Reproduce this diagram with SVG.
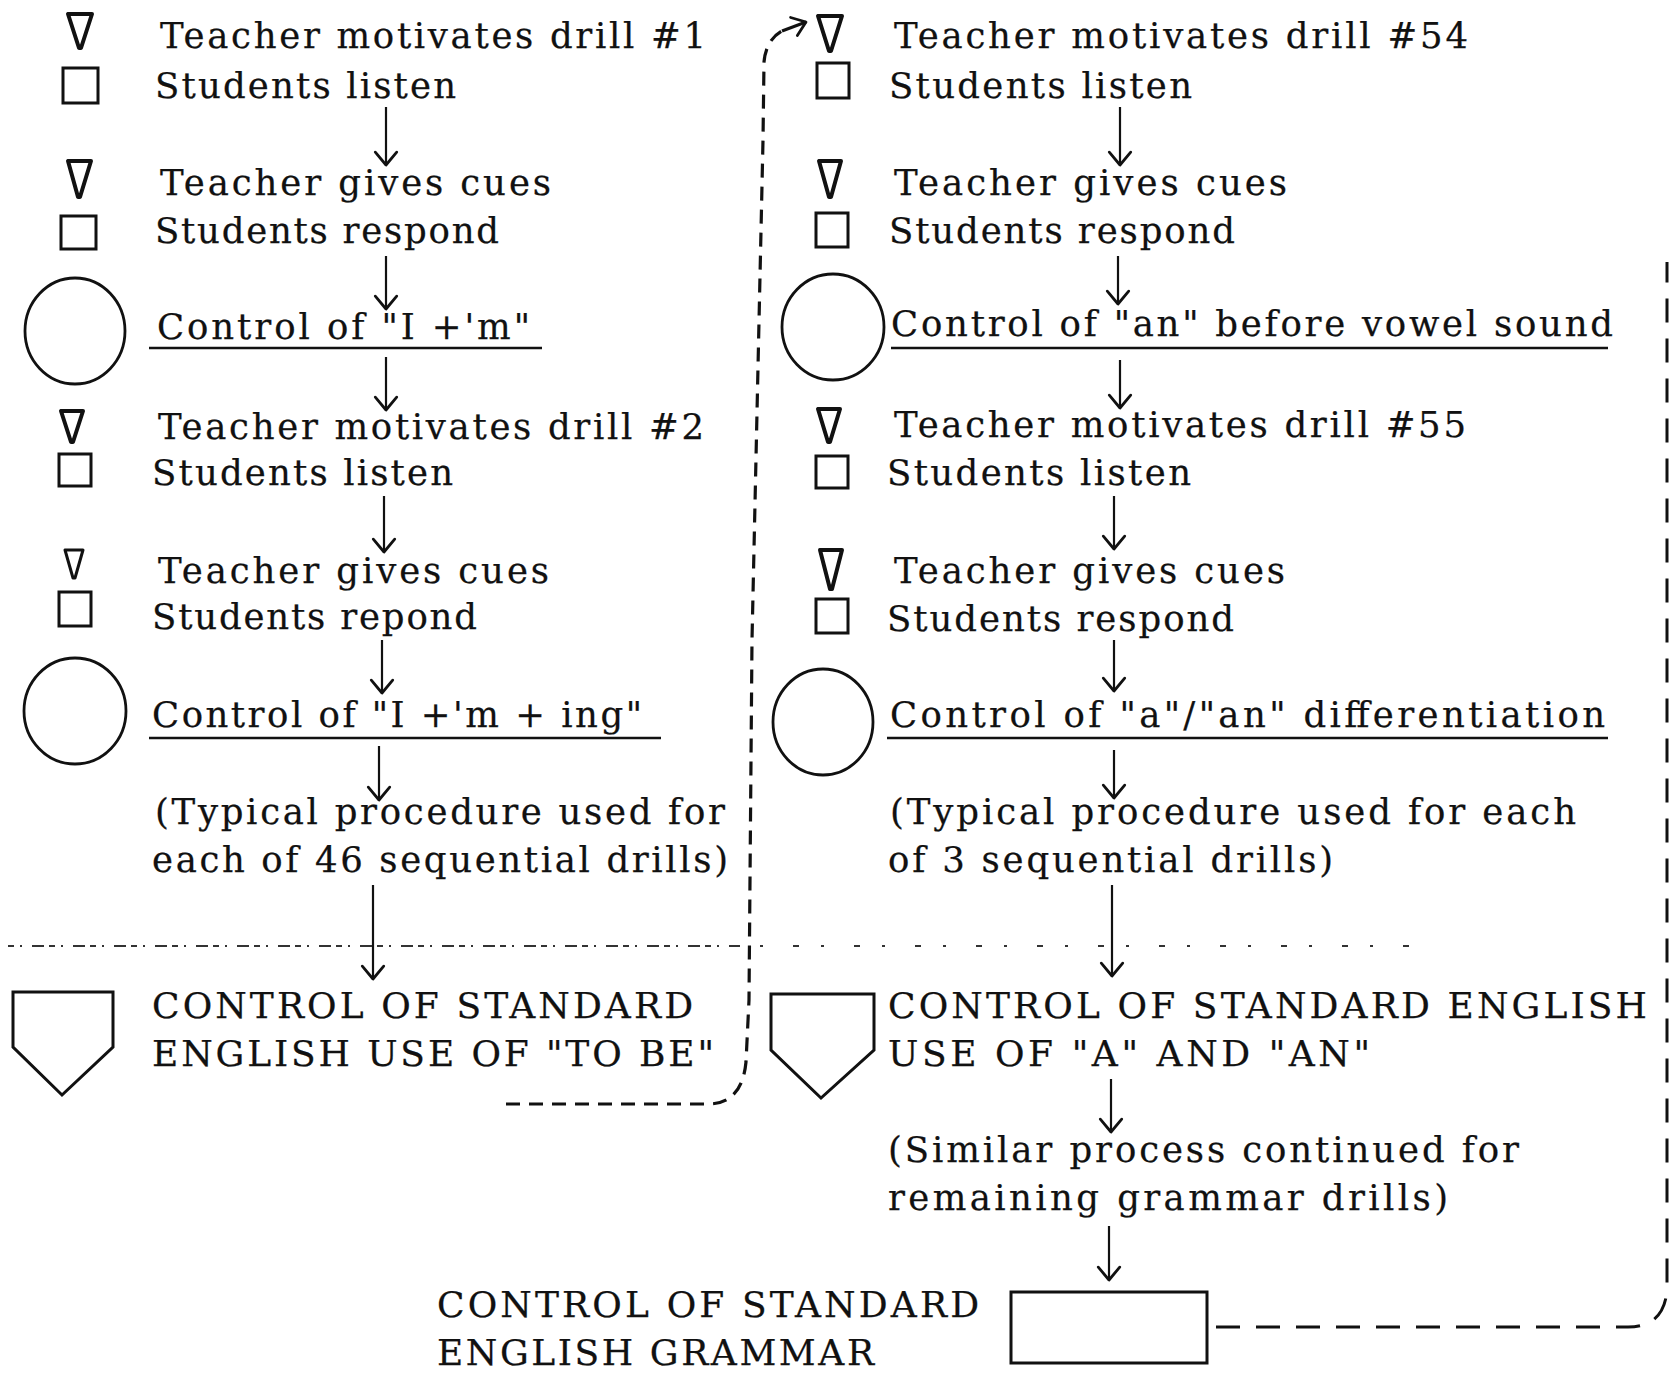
<svg xmlns="http://www.w3.org/2000/svg" width="1672" height="1374" viewBox="0 0 1672 1374">
<style>
text{font-family:"DejaVu Serif","Liberation Serif",serif;font-size:35.5px;fill:#111;stroke:#111;stroke-width:0.25}
.cap{font-size:36px}
.tri{fill:#fff;stroke:#111;stroke-width:4;stroke-linejoin:round}
.sq{fill:#fff;stroke:#111;stroke-width:3}
.circ{fill:none;stroke:#111;stroke-width:2.8}
.pent{fill:#fff;stroke:#111;stroke-width:3;stroke-linejoin:miter}
.ul{stroke:#111;stroke-width:2.4}
.arr{fill:none;stroke:#111;stroke-width:2.2;marker-end:url(#ah)}
.dash{fill:none;stroke:#111;stroke-width:3.2;stroke-dasharray:14 9}
.dash2{fill:none;stroke:#111;stroke-width:3;stroke-dasharray:24 16}
.dot{fill:none;stroke:#333;stroke-width:2;stroke-dasharray:6 6 2 10 12 5}
</style>
<defs>
<marker id="ah" markerUnits="userSpaceOnUse" markerWidth="30" markerHeight="30" refX="14" refY="12" orient="auto" viewBox="0 0 28 24">
<path d="M2,2 L14,12 L2,22" fill="none" stroke="#111" stroke-width="2.6" stroke-linecap="round" stroke-linejoin="round"/>
</marker>
<marker id="ah2" markerUnits="userSpaceOnUse" markerWidth="30" markerHeight="30" refX="14" refY="12" orient="auto" viewBox="0 0 28 24">
<path d="M2,3 L14,12 L2,21" fill="none" stroke="#111" stroke-width="2.6" stroke-linecap="round" stroke-linejoin="round"/>
</marker>
</defs>

<g id="connectors">
<path class="arr" d="M386,107 V165"/>
<path class="arr" d="M386,256 V309"/>
<path class="arr" d="M386,357 V410"/>
<path class="arr" d="M384,496 V552"/>
<path class="arr" d="M382,640 V693"/>
<path class="arr" d="M379,746 V800"/>
<path class="arr" d="M373,885 V979"/>
<path class="arr" d="M1120,107 V165"/>
<path class="arr" d="M1118,256 V304"/>
<path class="arr" d="M1120,360 V408"/>
<path class="arr" d="M1114,496 V549"/>
<path class="arr" d="M1114,640 V691"/>
<path class="arr" d="M1114,750 V798"/>
<path class="arr" d="M1112,885 V976"/>
<path class="arr" d="M1111,1079 V1132"/>
<path class="arr" d="M1109,1226 V1280"/>
<path class="dash" d="M506,1104 H708 Q742,1104 746,1062 L749,1000 L752,640 L763,140 L764,62 Q766,40 782,31"/>
<path d="M782,31 L806,22" fill="none" stroke="#111" stroke-width="3" marker-end="url(#ah2)"/>
<path class="dash2" d="M1216,1327 H1628 Q1664,1327 1667,1290 V262"/>
<path class="dot" d="M8,946 H740"/>
<path class="dot" d="M760,946 H1420" style="stroke-dasharray:3 30 6 22"/>
</g>

<g id="n-left-1">
<polygon class="tri" points="68,14 92,14 81,48 79,48"/>
<text x="160" y="48" textLength="546" lengthAdjust="spacing">Teacher motivates drill #1</text>
<rect class="sq" x="63" y="68" width="35" height="35"/>
<text x="155" y="98" textLength="301" lengthAdjust="spacing">Students listen</text>
</g>
<g id="n-left-2">
<polygon class="tri" points="68,161 91,161 80,197 78,197"/>
<text x="160" y="195" textLength="391" lengthAdjust="spacing">Teacher gives cues</text>
<rect class="sq" x="61" y="216" width="35" height="33"/>
<text x="155" y="243" textLength="344" lengthAdjust="spacing">Students respond</text>
</g>
<g id="n-left-3">
<ellipse class="circ" cx="75" cy="331" rx="50" ry="53"/>
<text x="157" y="339" textLength="373" lengthAdjust="spacing">Control of "I +'m"</text>
<line class="ul" x1="149" y1="348" x2="542" y2="348"/>
</g>
<g id="n-left-4">
<polygon class="tri" points="61,411 83,411 73,442 71,442"/>
<text x="158" y="439" textLength="546" lengthAdjust="spacing">Teacher motivates drill #2</text>
<rect class="sq" x="59" y="454" width="32" height="32"/>
<text x="152" y="485" textLength="301" lengthAdjust="spacing">Students listen</text>
</g>
<g id="n-left-5">
<polygon class="tri" points="65,550 83,550 75,578 73,578" style="stroke-width:3"/>
<text x="158" y="583" textLength="391" lengthAdjust="spacing">Teacher gives cues</text>
<rect class="sq" x="59" y="592" width="32" height="34"/>
<text x="152" y="629" textLength="325" lengthAdjust="spacing">Students repond</text>
</g>
<g id="n-left-6">
<ellipse class="circ" cx="75" cy="711" rx="51" ry="53"/>
<text x="152" y="727" textLength="490" lengthAdjust="spacing">Control of "I +'m + ing"</text>
<line class="ul" x1="149" y1="738" x2="661" y2="738"/>
</g>
<g id="n-left-7">
<text x="155" y="824" textLength="570" lengthAdjust="spacing">(Typical procedure used for</text>
<text x="152" y="872" textLength="576" lengthAdjust="spacing">each of 46 sequential drills)</text>
</g>
<g id="n-left-8">
<polygon class="pent" points="13,992 113,992 113,1047 62,1095 13,1047"/>
<text class="cap" x="152" y="1018" textLength="541" lengthAdjust="spacing">CONTROL OF STANDARD</text>
<text class="cap" x="152" y="1066" textLength="562" lengthAdjust="spacing">ENGLISH USE OF "TO BE"</text>
</g>

<g id="n-right-1">
<polygon class="tri" points="818,16 842,16 831,51 829,51"/>
<text x="894" y="48" textLength="574" lengthAdjust="spacing">Teacher motivates drill #54</text>
<rect class="sq" x="817" y="63" width="32" height="35"/>
<text x="889" y="98" textLength="303" lengthAdjust="spacing">Students listen</text>
</g>
<g id="n-right-2">
<polygon class="tri" points="819,161 841,161 831,197 829,197"/>
<text x="894" y="195" textLength="393" lengthAdjust="spacing">Teacher gives cues</text>
<rect class="sq" x="816" y="213" width="32" height="34"/>
<text x="889" y="243" textLength="346" lengthAdjust="spacing">Students respond</text>
</g>
<g id="n-right-3">
<ellipse class="circ" cx="833" cy="327" rx="51" ry="53"/>
<text x="891" y="336" textLength="722" lengthAdjust="spacing">Control of "an" before vowel sound</text>
<line class="ul" x1="891" y1="348" x2="1608" y2="348"/>
</g>
<g id="n-right-4">
<polygon class="tri" points="818,409 840,409 830,442 828,442"/>
<text x="894" y="437" textLength="572" lengthAdjust="spacing">Teacher motivates drill #55</text>
<rect class="sq" x="816" y="456" width="32" height="32"/>
<text x="887" y="485" textLength="304" lengthAdjust="spacing">Students listen</text>
</g>
<g id="n-right-5">
<polygon class="tri" points="820,550 842,550 832,589 830,589"/>
<text x="894" y="583" textLength="391" lengthAdjust="spacing">Teacher gives cues</text>
<rect class="sq" x="816" y="599" width="32" height="34"/>
<text x="887" y="631" textLength="347" lengthAdjust="spacing">Students respond</text>
</g>
<g id="n-right-6">
<ellipse class="circ" cx="823" cy="722" rx="50" ry="53"/>
<text x="890" y="727" textLength="715" lengthAdjust="spacing">Control of "a"/"an" differentiation</text>
<line class="ul" x1="887" y1="738" x2="1608" y2="738"/>
</g>
<g id="n-right-7">
<text x="890" y="824" textLength="686" lengthAdjust="spacing">(Typical procedure used for each</text>
<text x="888" y="872" textLength="445" lengthAdjust="spacing">of 3 sequential drills)</text>
</g>
<g id="n-right-8">
<polygon class="pent" points="771,994 874,994 874,1050 821,1098 771,1050"/>
<text class="cap" x="888" y="1018" textLength="759" lengthAdjust="spacing">CONTROL OF STANDARD ENGLISH</text>
<text class="cap" x="888" y="1066" textLength="482" lengthAdjust="spacing">USE OF "A" AND "AN"</text>
</g>
<g id="n-right-9">
<text x="888" y="1162" textLength="631" lengthAdjust="spacing">(Similar process continued for</text>
<text x="888" y="1210" textLength="560" lengthAdjust="spacing">remaining grammar drills)</text>
</g>
<g id="n-final">
<rect class="sq" x="1011" y="1292" width="196" height="71"/>
<text class="cap" x="437" y="1317" textLength="542" lengthAdjust="spacing">CONTROL OF STANDARD</text>
<text class="cap" x="437" y="1365" textLength="437" lengthAdjust="spacing">ENGLISH GRAMMAR</text>
</g>
</svg>
